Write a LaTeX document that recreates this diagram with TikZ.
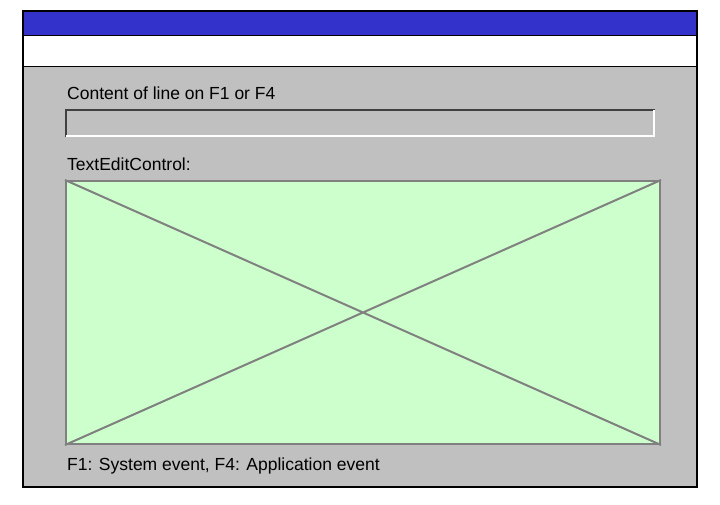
\documentclass[tikz,border=0pt]{standalone}
\usepackage{fontspec}
\setmainfont{Liberation Sans}
\definecolor{titleblue}{RGB}{51,51,204}
\definecolor{panelgrey}{RGB}{192,192,192}
\definecolor{xgrey}{RGB}{128,128,128}
\definecolor{boxgreen}{RGB}{204,255,204}
\begin{document}
\begin{tikzpicture}[x=1pt,y=-1pt,
  lbl/.style={anchor=base west,inner sep=0pt,font=\fontsize{17.5}{20}\selectfont}]
\useasboundingbox (0,0) rectangle (720,504);
\fill[white] (0,0) rectangle (720,504);
\fill[panelgrey] (23,66) rectangle (697,487);
\fill[white] (23,35) rectangle (697,66);
\fill[titleblue] (23,11) rectangle (697,35);
\draw[line width=1.2pt] (23,11) rectangle (697,487);
\draw[line width=1pt] (23,35) -- (697,35);
\draw[line width=1pt] (23,66) -- (697,66);
\node[lbl] (t1) at (67,99) {Content of line on F1 or F4};
\draw[line width=1.5pt,black!75] (66,137) -- (66,110) -- (655,110);
\draw[line width=1.5pt,white] (66,136) -- (654,136) -- (654,110);
\node[lbl] (t2) at (67,170) {TextEditControl:};
\node[draw=xgrey,line width=2pt,fill=boxgreen,
  minimum width=594pt,minimum height=263pt,inner sep=0pt,anchor=north west] (box) at (65,180) {};
\draw[line width=2pt,xgrey] (box.north west) -- (box.south east) (box.south west) -- (box.north east);
\node[lbl] (t3) at (67,470) {F1: System event, F4: Application event};
\end{tikzpicture}
\end{document}
